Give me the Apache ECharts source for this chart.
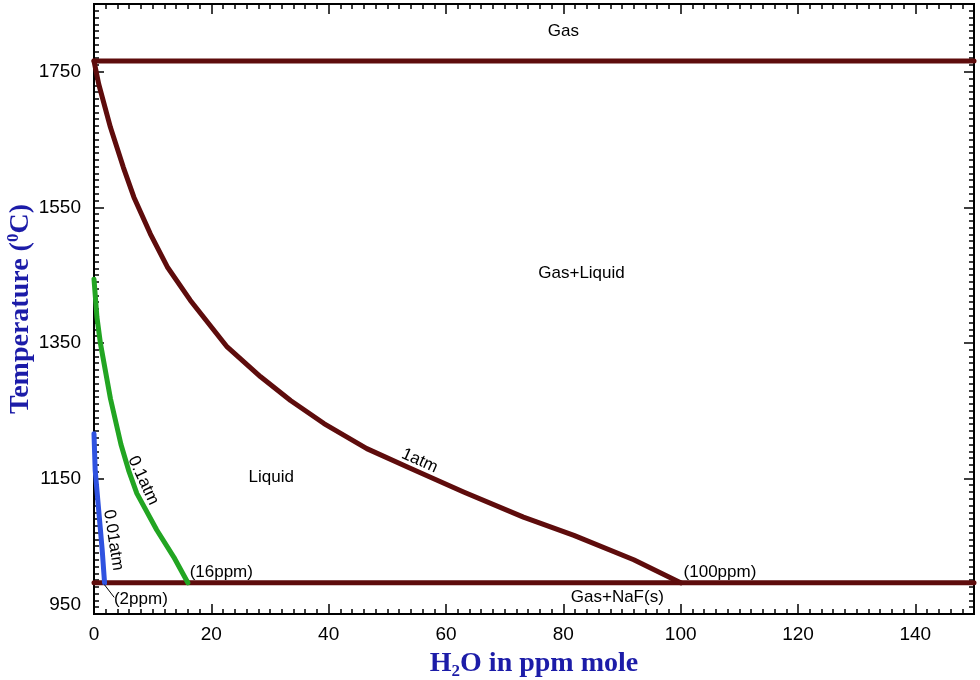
<!DOCTYPE html>
<html><head><meta charset="utf-8">
<script src="https://cdn.jsdelivr.net/npm/echarts@6/dist/echarts.min.js"></script>
<style>html,body{margin:0;padding:0;background:#fff}#c{width:980px;height:680px}</style>
</head><body><div id="c"></div>
<script>
// ---- axis ranges / ticks ----
const xRange = [0, 150];
const yRange = [950, 1850];
const xMajorStep = 20, xMinorStep = 2;
const yMajorStep = 200, yMinorStep = 10;

// ---- series values: [H2O ppm, temperature °C] ----
const gasBoundary = [[0, 1766], [150, 1766]];
const solidBoundary = [[0, 996], [150, 996]];
const curve1atm = [[0, 1766], [0.8, 1732], [2.8, 1668], [5.0, 1609], [6.8, 1565], [9.6, 1511],
  [12.5, 1462], [16.4, 1413], [22.7, 1344], [28.4, 1300], [33.5, 1265], [39.2, 1231],
  [46.5, 1194], [53.9, 1165], [63.0, 1130], [73.2, 1093], [81.8, 1066], [92.0, 1030], [100, 996]];
const curve01atm = [[0, 1444], [0.5, 1388], [1.1, 1349], [2.8, 1268], [4.6, 1200], [5.9, 1162],
  [7.3, 1128], [10.7, 1074], [13.6, 1034], [16, 996]];
const curve001atm = [[0, 1216], [0.2, 1162], [0.8, 1103], [1.4, 1044], [1.8, 996]];
const leader2ppm = [[1.8, 993], [3.4, 975]];

// ---- annotation texts ----
const regionTexts = ['Gas', 'Gas+Liquid', 'Liquid', 'Gas+NaF(s)'];
const regionAt = [[80, 1809], [83.1, 1452], [30.2, 1152], [89.2, 974]];
const curveTexts = ['1atm', '0.1atm', '0.01atm'];
const curveAt = [[55.5, 1176], [8.4, 1147], [3.3, 1059]];
const curveAngle = [-24, -65, -81];
const pointTexts = ['(16ppm)', '(100ppm)', '(2ppm)'];
const pointAt = [[16.3, 1012], [100.5, 1012], [3.4, 971]];

const C_RED = '#5e0c0c', C_GREEN = '#22a522', C_BLUE = '#2f52e0', C_TITLE = '#1c1ca8';
const LBL = 'Liberation Sans, Arial, sans-serif';
const SERIF = 'Liberation Serif, Times New Roman, serif';

function xAx(pos, step, len, labels, name) {
  const a = {
    type: 'value', position: pos, min: xRange[0], max: xRange[1], interval: step,
    axisLine: { show: true, onZero: false, lineStyle: { color: '#000', width: 2 } },
    axisTick: { show: true, inside: true, length: len, lineStyle: { color: '#000', width: 1.5 } },
    axisLabel: { show: labels, showMaxLabel: false, margin: 11, color: '#000', fontSize: 19, fontFamily: LBL,
      formatter: v => String(v) },
    splitLine: { show: false }
  };
  if (name) {
    a.name = '{n|H}{sub|2}{n|O in ppm mole}';
    a.nameLocation = 'middle';
    a.nameGap = 34;
    a.nameMoveOverlap = false;
    a.nameTextStyle = { rich: {
      n: { fontSize: 28, fontWeight: 'bold', fontFamily: SERIF, color: C_TITLE, lineHeight: 32 },
      sub: { fontSize: 17, fontWeight: 'bold', fontFamily: SERIF, color: C_TITLE, lineHeight: 17, verticalAlign: 'bottom' }
    } };
  }
  return a;
}
function yAx(pos, step, len, labels, name) {
  const a = {
    type: 'value', position: pos, min: yRange[0], max: yRange[1], interval: step,
    axisLine: { show: true, onZero: false, lineStyle: { color: '#000', width: 2 } },
    axisTick: { show: true, inside: true, length: len, lineStyle: { color: '#000', width: 1.5 } },
    axisLabel: { show: labels, showMaxLabel: false, verticalAlignMinLabel: 'bottom', margin: 13, color: '#000', fontSize: 19, fontFamily: LBL,
      formatter: v => String(v) },
    splitLine: { show: false }
  };
  if (name) {
    a.name = '{n|Temperature (}{sup|0}{n|C)}';
    a.nameLocation = 'middle';
    a.nameGap = 57;
    a.nameMoveOverlap = false;
    a.nameTextStyle = { rich: {
      n: { fontSize: 28, fontWeight: 'bold', fontFamily: SERIF, color: C_TITLE, lineHeight: 32 },
      sup: { fontSize: 17, fontWeight: 'bold', fontFamily: SERIF, color: C_TITLE, lineHeight: 17, verticalAlign: 'top' }
    } };
  }
  return a;
}

function lineSeries(data, color, width) {
  return { type: 'line', data: data, xAxisIndex: 0, yAxisIndex: 0, showSymbol: false, symbol: 'none',
    clip: false, silent: true, z: 3,
    lineStyle: { color: color, width: width, cap: 'round', join: 'round' } };
}
function textSeries(texts, at, labelOpt) {
  return { type: 'scatter', xAxisIndex: 0, yAxisIndex: 0, symbolSize: 0, silent: true, z: 5,
    itemStyle: { opacity: 1 },
    data: texts.map((t, i) => {
      const item = { value: [at[i][0], at[i][1]], name: t };
      if (labelOpt.rotates) item.label = { rotate: labelOpt.rotates[i] };
      return item;
    }),
    label: Object.assign({ show: true, formatter: p => p.name, color: '#000', opacity: 1, fontSize: 17, fontFamily: LBL }, labelOpt.base) };
}

const chart = echarts.init(document.getElementById('c'), null, { renderer: 'canvas' });
chart.setOption({
  animation: false,
  backgroundColor: '#fff',
  grid: { left: 94, right: 6, top: 4, bottom: 66, containLabel: false, outerBoundsMode: 'none' },
  xAxis: [
    xAx('bottom', xMinorStep, 5, false, false),
    xAx('bottom', xMajorStep, 10, true, true),
    xAx('top', xMinorStep, 5, false, false),
    xAx('top', xMajorStep, 10, false, false)
  ],
  yAxis: [
    yAx('left', yMinorStep, 5, false, false),
    yAx('left', yMajorStep, 10, true, true),
    yAx('right', yMinorStep, 5, false, false),
    yAx('right', yMajorStep, 10, false, false)
  ],
  series: [
    lineSeries(gasBoundary, C_RED, 5),
    lineSeries(solidBoundary, C_RED, 5),
    lineSeries(curve1atm, C_RED, 5),
    lineSeries(curve01atm, C_GREEN, 5),
    lineSeries(curve001atm, C_BLUE, 5),
    lineSeries(leader2ppm, '#000', 1),
    textSeries(regionTexts, regionAt, { base: { position: 'inside', align: 'center', verticalAlign: 'middle' } }),
    textSeries(curveTexts, curveAt, { base: { position: 'inside', align: 'center', verticalAlign: 'middle' }, rotates: curveAngle }),
    textSeries(pointTexts, pointAt, { base: { position: 'inside', align: 'left', verticalAlign: 'middle' } })
  ]
});
</script></body></html>
